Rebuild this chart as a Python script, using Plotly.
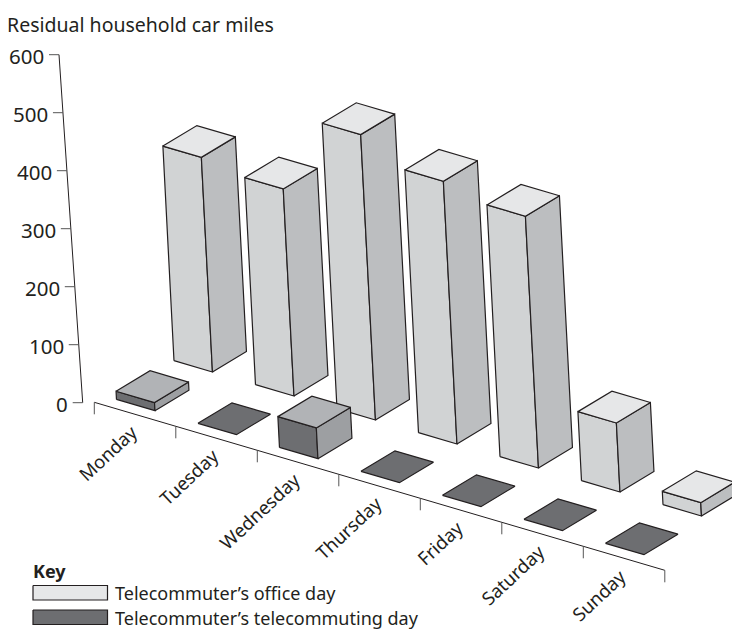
import plotly.graph_objects as go

# Chart data
days = ["Monday", "Tuesday", "Wednesday", "Thursday", "Friday", "Saturday", "Sunday"]
office_miles = [370, 357, 492, 453, 434, 119, 23]
telecommuting_miles = [14, 0, 53, 0, 0, 0, 0]
value_ticks = [0, 100, 200, 300, 400, 500, 600]
axis_title = "Residual household car miles"
key_title = "Key"
key_labels = ["Telecommuter’s office day", "Telecommuter’s telecommuting day"]

# Oblique projection of (day, depth, value) onto the page
ORIGIN = (94.3, 402.3)
DAY_STEP = (81.5, 24.0)
DEPTH_STEP = (34.0, -20.5)
VALUE_STEP = (-0.03, -0.58)      # page shift per mile for the bars
WALL_BASE = (82.7, 402.7)
WALL_STEP = (-0.0395, -0.58)     # page shift per mile along the value axis
BAR_WIDTH = 0.472

INK = "#231f20"
FONT = "Noto Sans"
TITLE_SIZE = 19.5
DAY_SIZE = 18.5
TICK_SIZE = 20.5
KEY_SIZE = 18


def project(day, depth, value=0.0):
    return (
        ORIGIN[0] + day * DAY_STEP[0] + depth * DEPTH_STEP[0] + value * VALUE_STEP[0],
        ORIGIN[1] + day * DAY_STEP[1] + depth * DEPTH_STEP[1] + value * VALUE_STEP[1],
    )


fig = go.Figure()


def polygon(points, fill, width=1.2):
    xs = [p[0] for p in points] + [points[0][0]]
    ys = [p[1] for p in points] + [points[0][1]]
    fig.add_trace(go.Scatter(
        x=xs, y=ys, mode="lines", fill="toself", fillcolor=fill,
        line=dict(color=INK, width=width), hoverinfo="skip", showlegend=False,
    ))


def segment(a, b, color=INK, width=1.0):
    fig.add_trace(go.Scatter(
        x=[a[0], b[0]], y=[a[1], b[1]], mode="lines",
        line=dict(color=color, width=width), hoverinfo="skip", showlegend=False,
    ))


def draw_bar(day, front_day, front_depth, value, top, front, side, flat):
    fd = day + front_day
    ld = fd - BAR_WIDTH
    rd = front_depth + 1.0
    if value <= 0:
        polygon([project(ld, front_depth), project(fd, front_depth),
                 project(fd, rd), project(ld, rd)], flat)
        return
    polygon([project(ld, front_depth), project(fd, front_depth),
             project(fd, front_depth, value), project(ld, front_depth, value)], front)
    polygon([project(fd, front_depth), project(fd, rd),
             project(fd, rd, value), project(fd, front_depth, value)], side)
    polygon([project(ld, front_depth, value), project(fd, front_depth, value),
             project(fd, rd, value), project(ld, rd, value)], top)


# Rear row first, so the front row paints over it
for i, v in enumerate(office_miles):
    draw_bar(i, 0.5595, 2.134, v, "#e6e7e8", "#d1d3d4", "#bcbec0", "#e6e7e8")
for i, v in enumerate(telecommuting_miles):
    draw_bar(i, 0.6145, 0.3104, v, "#b1b3b6", "#6d6e71", "#9d9fa2", "#6d6e71")

annotations = []


def label(x, y, text, size, **kw):
    base = dict(x=x, y=y, text=text, showarrow=False, xref="x", yref="y",
                font=dict(family=FONT, size=size, color=INK))
    base.update(kw)
    annotations.append(base)


# Value axis
wall = lambda v: (WALL_BASE[0] + v * WALL_STEP[0], WALL_BASE[1] + v * WALL_STEP[1])
segment(wall(value_ticks[0]), wall(value_ticks[-1]))
for v in value_ticks:
    p = wall(v)
    segment((p[0] - 10, p[1]), p, color="#555555")
    label(p[0] - 13, p[1] + 1, str(v), TICK_SIZE, xanchor="right", yanchor="middle")

# Day axis with ticks at the slot boundaries
segment(project(0, 0), project(len(days), 0))
for i in range(len(days) + 1):
    p = project(i, 0)
    segment(p, (p[0], p[1] + 12), color="#555555")
for i, name in enumerate(days):
    p = project(i + 0.5, 0)
    label(p[0] + 10, p[1] + 2, name, DAY_SIZE, textangle=-43, xanchor="right", yanchor="top")

label(5, 24, axis_title, TITLE_SIZE, xanchor="left", yanchor="middle")

# Key
label(31, 571, f"<b>{key_title}</b>", KEY_SIZE, xanchor="left", yanchor="middle")
for (top, fill, text) in zip((585.5, 610.0), ("#e6e7e8", "#6d6e71"), key_labels):
    polygon([(33, top), (107.5, top), (107.5, top + 14.5), (33, top + 14.5)], fill)
    label(113, top + 7.5, text, KEY_SIZE, xanchor="left", yanchor="middle")

fig.update_layout(
    width=732, height=630,
    margin=dict(l=0, r=0, t=0, b=0),
    paper_bgcolor="white", plot_bgcolor="white",
    showlegend=False,
    xaxis=dict(range=[0, 732], visible=False, fixedrange=True),
    yaxis=dict(range=[630, 0], visible=False, fixedrange=True),
    annotations=annotations,
)

fig.write_html("out.html", config={"displayModeBar": False})
